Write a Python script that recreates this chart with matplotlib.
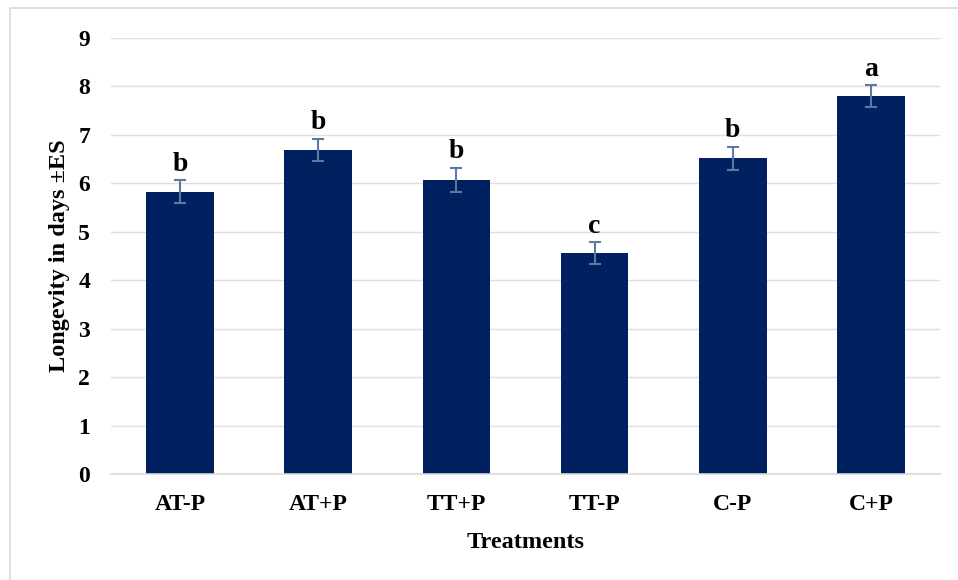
import matplotlib
matplotlib.use("Agg")
import matplotlib.pyplot as plt
from matplotlib.patches import Rectangle
import numpy as np

treatments = ["AT-P", "AT+P", "TT+P", "TT-P", "C-P", "C+P"]
longevity = [5.83, 6.69, 6.07, 4.56, 6.52, 7.80]
errors = [0.23, 0.22, 0.24, 0.22, 0.24, 0.22]
letters = ["b", "b", "b", "c", "b", "a"]

plt.rcParams["font.family"] = ["Liberation Serif", "DejaVu Serif"]
plt.rcParams["font.weight"] = "bold"

fig = plt.figure(figsize=(9.58, 5.8), dpi=100)
ax = fig.add_axes([111 / 958, 1 - 474 / 580, 829 / 958, 436 / 580])

x = np.arange(len(treatments))
ax.bar(x, longevity, width=0.49, color="#002060", zorder=2)
ax.errorbar(x, longevity, yerr=errors, fmt="none", ecolor="#5b7aa3",
            elinewidth=1.5, capsize=4.5, capthick=1.5, zorder=3)

for xi, v, e, t in zip(x, longevity, errors, letters):
    ax.text(xi, v + e + 0.08, t, ha="center", va="bottom",
            fontsize=20, fontweight="bold")

ax.set_xlim(-0.5, len(treatments) - 0.5)
ax.set_ylim(0, 9)
ax.set_yticks(range(0, 10))
ax.set_xticks(x)
ax.set_xticklabels(treatments)
ax.tick_params(axis="both", length=0, labelsize=17)
ax.tick_params(axis="y", pad=15)
ax.tick_params(axis="x", pad=14.5)
for lab in ax.get_xticklabels() + ax.get_yticklabels():
    lab.set_fontweight("bold")

ax.grid(axis="y", color="#e0e0e0", linewidth=1.0, zorder=0)
ax.set_axisbelow(True)
for s in ["top", "right", "left"]:
    ax.spines[s].set_visible(False)
ax.spines["bottom"].set_color("#d9d9d9")
ax.spines["bottom"].set_linewidth(1.2)

ax.set_xlabel("Treatments", fontsize=17.5, fontweight="bold", labelpad=12)
ax.set_ylabel("Longevity in days ±ES", fontsize=17.5, fontweight="bold", labelpad=6)

# outer chart border
fig.patches.append(Rectangle((10 / 958, -0.1), 1.1, 1 - 8 / 580 + 0.1,
                             transform=fig.transFigure, fill=False,
                             edgecolor="#d9d9d9", linewidth=1.2))

plt.savefig("out.png", dpi=100)
